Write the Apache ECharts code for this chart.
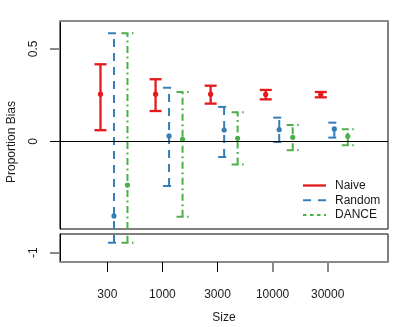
<!DOCTYPE html>
<html>
<head>
<meta charset="utf-8">
<script src="https://cdn.jsdelivr.net/npm/echarts@6/dist/echarts.min.js"></script>
<style>
    html, body { margin: 0; padding: 0; background: #fff; }
    #main { width: 409px; height: 327px; }
</style>
</head>
<body>
<div id="main"></div>
<script>
//x轴分类（样本量）
var sizes = ['300', '1000', '3000', '10000', '30000'];

//Naive
var naiveMean = [0.255, 0.255, 0.255, 0.254, 0.254];
var naiveLower = [0.060, 0.164, 0.204, 0.227, 0.238];
var naiveUpper = [0.417, 0.336, 0.301, 0.278, 0.267];

//Random
var randomMean = [-0.404, 0.029, 0.061, 0.063, 0.067];
var randomLower = [-0.946, -0.242, -0.085, -0.004, 0.020];
var randomUpper = [0.585, 0.290, 0.186, 0.128, 0.101];

//DANCE
var danceMean = [-0.237, 0.011, 0.016, 0.022, 0.027];
var danceLower = [-0.946, -0.408, -0.125, -0.049, -0.022];
var danceUpper = [0.585, 0.267, 0.157, 0.088, 0.065];

//y轴刻度
var upperTicks = [0, 0.5];
var lowerTicks = [-1];

var FONT = 'Liberation Sans, Arial, Helvetica, sans-serif';
var GRAY = '#8a8a8a';
var xMin = -0.86, xMax = 5.095;

var methods = [
    { name: 'Naive', color: '#E41A1C', width: 2.3, dash: null, offset: -0.125, legendDash: null,
      mean: naiveMean, lower: naiveLower, upper: naiveUpper },
    { name: 'Random', color: '#377EB8', width: 2, dash: [8, 6], offset: 0.12, legendDash: [8, 7],
      mean: randomMean, lower: randomLower, upper: randomUpper },
    { name: 'DANCE', color: '#4DAF4A', width: 2, dash: [7, 3.5, 2, 3.5], offset: 0.365, legendDash: [3.5, 3.5],
      mean: danceMean, lower: danceLower, upper: danceUpper }
];

function buildData(m) {
    var arr = [];
    for (var i = 0; i < sizes.length; i++) {
        arr.push([i, m.lower[i], m.upper[i], m.mean[i]]);
    }
    return arr;
}

//误差棒，超出本网格的部分截掉（断轴）
function makeRender(m) {
    return function (params, api) {
        var cs = params.coordSys;
        var top = cs.y, bottom = cs.y + cs.height;
        var xv = api.value(0) + m.offset;
        var x = api.coord([xv, 0])[0];
        var yLo = api.coord([xv, api.value(1)])[1];
        var yHi = api.coord([xv, api.value(2)])[1];
        var yMid = api.coord([xv, api.value(3)])[1];
        var style = { stroke: m.color, lineWidth: m.width, lineDash: m.dash, fill: null };
        var children = [];

        var a = Math.max(yHi, top), b = Math.min(yLo, bottom);
        if (b > a) {
            children.push({ type: 'line', shape: { x1: x, y1: b, x2: x, y2: a }, style: style });
        }
        var cap = 6;
        [yHi, yLo].forEach(function (y) {
            if (y >= top - 0.5 && y <= bottom + 0.5) {
                children.push({ type: 'line', shape: { x1: x - cap, y1: y, x2: x + cap, y2: y }, style: style });
            }
        });
        if (yMid >= top && yMid <= bottom) {
            children.push({ type: 'circle', shape: { cx: x, cy: yMid, r: 2.6 }, style: { fill: m.color } });
        }
        return { type: 'group', children: children };
    };
}

var series = [];
methods.forEach(function (m) {
    [0, 1].forEach(function (g) {
        series.push({
            name: m.name,
            type: 'custom',
            xAxisIndex: g === 0 ? 0 : 1,
            yAxisIndex: g === 0 ? 0 : 2,
            renderItem: makeRender(m),
            encode: { x: 0, y: [1, 2, 3] },
            data: buildData(m),
            silent: true,
            z: 3
        });
    });
});

//y=0 参考线
series.push({
    type: 'line',
    xAxisIndex: 0,
    yAxisIndex: 0,
    data: [],
    silent: true,
    markLine: {
        silent: true,
        symbol: 'none',
        label: { show: false },
        lineStyle: { color: '#000', width: 1, type: 'solid' },
        data: [{ yAxis: 0 }]
    },
    z: 2
});

//图例
var legendItems = [];
methods.forEach(function (m, i) {
    var y = 185.5 + i * 14.7;
    legendItems.push({
        type: 'line',
        shape: { x1: 303, y1: y, x2: 326, y2: y },
        style: { stroke: m.color, lineWidth: m.width, lineDash: m.legendDash }
    });
    legendItems.push({
        type: 'text',
        x: 335,
        y: y,
        style: { text: m.name, font: '12px ' + FONT, fill: '#1a1a1a', align: 'left', verticalAlign: 'middle' }
    });
});

var labelStyle = { color: '#1a1a1a', fontSize: 12, fontFamily: FONT };

var option = {
    animation: false,
    backgroundColor: '#fff',
    grid: [
        { left: 60, top: 21, width: 328, height: 208, show: true, borderColor: '#000', borderWidth: 1, backgroundColor: 'transparent' },
        { left: 60, top: 234, width: 328, height: 28, show: true, borderColor: '#000', borderWidth: 1, backgroundColor: 'transparent' }
    ],
    xAxis: [
        {
            gridIndex: 0, type: 'value', position: 'top', min: xMin, max: xMax,
            axisLine: { show: true, onZero: false, lineStyle: { color: GRAY, width: 2 } },
            axisTick: { show: false }, axisLabel: { show: false }, splitLine: { show: false }
        },
        {
            gridIndex: 1, type: 'value', position: 'bottom', min: xMin, max: xMax,
            axisLine: { show: true, onZero: false, lineStyle: { color: GRAY, width: 2 } },
            axisTick: { show: true, length: 10, customValues: [0, 1, 2], lineStyle: { color: '#000', width: 1 } },
            axisLabel: Object.assign({
                margin: 27,
                customValues: [0, 1, 2, 3, 4],
                formatter: function (v) { return sizes[Math.round(v)]; }
            }, labelStyle),
            splitLine: { show: false },
            name: 'Size', nameLocation: 'middle', nameGap: 50,
            nameTextStyle: labelStyle
        },
        {
            gridIndex: 1, type: 'value', position: 'bottom', min: xMin, max: xMax,
            axisLine: { show: false, onZero: false },
            axisTick: { show: true, length: 10, customValues: [3, 4], lineStyle: { color: GRAY, width: 2 } },
            axisLabel: { show: false }, splitLine: { show: false }
        }
    ],
    yAxis: [
        {
            gridIndex: 0, type: 'value', position: 'left', min: -0.4749, max: 0.6513,
            axisLine: { show: true, onZero: false, lineStyle: { color: '#000', width: 1 } },
            axisTick: { show: true, length: 10, customValues: [0.5], lineStyle: { color: GRAY, width: 2 } },
            axisLabel: Object.assign({ rotate: 90, margin: 20, customValues: upperTicks }, labelStyle),
            splitLine: { show: false }
        },
        {
            gridIndex: 0, type: 'value', position: 'left', min: -0.4749, max: 0.6513,
            axisLine: { show: false, onZero: false },
            axisTick: { show: true, length: 10, customValues: [0], lineStyle: { color: '#000', width: 1 } },
            axisLabel: { show: false }, splitLine: { show: false }
        },
        {
            gridIndex: 1, type: 'value', position: 'left', min: -1.0504, max: -0.8988,
            axisLine: { show: true, onZero: false, lineStyle: { color: '#000', width: 1 } },
            axisTick: { show: true, length: 10, customValues: lowerTicks, lineStyle: { color: GRAY, width: 2 } },
            axisLabel: Object.assign({ rotate: 90, margin: 20, customValues: lowerTicks }, labelStyle),
            splitLine: { show: false }
        }
    ],
    graphic: [
        {
            type: 'text', x: 12, y: 142, rotation: Math.PI / 2,
            style: { text: 'Proportion Bias', font: '12px ' + FONT, fill: '#1a1a1a', align: 'center', verticalAlign: 'middle' }
        }
    ].concat(legendItems),
    series: series
};

var myChart = echarts.init(document.getElementById('main'));
myChart.setOption(option);
</script>
</body>
</html>
